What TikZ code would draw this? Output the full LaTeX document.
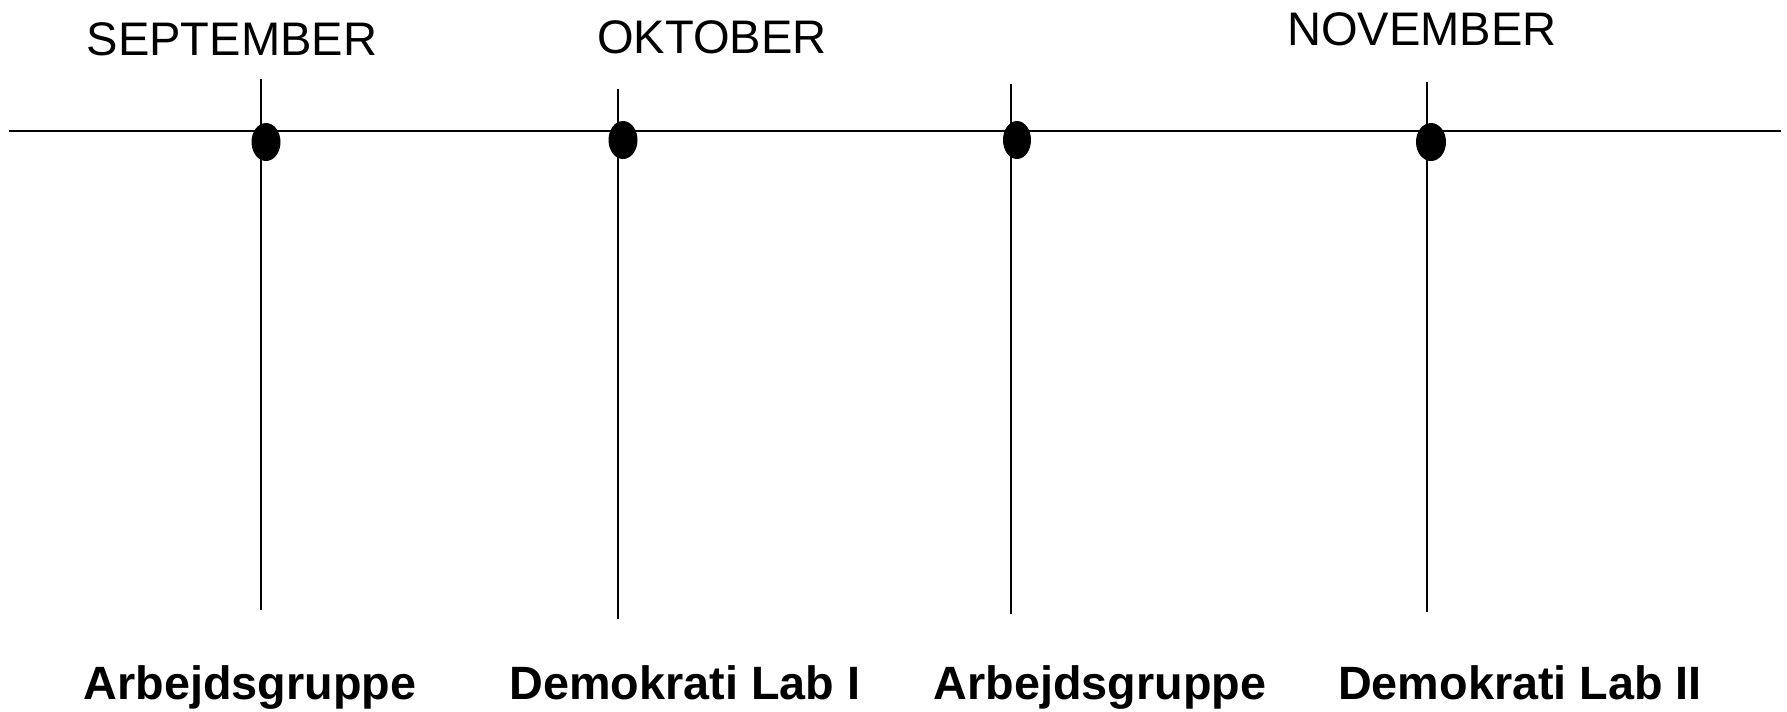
\documentclass[tikz,border=0pt]{standalone}
\usepackage{fontspec}
\setmainfont{Liberation Sans}
\usetikzlibrary{positioning}

\tikzset{
  month/.style={draw=none,inner sep=0pt,anchor=base,font=\fontsize{13.4}{16}\selectfont},
  task/.style={draw=none,inner sep=0pt,anchor=base,font=\fontsize{13.3}{16}\selectfont\bfseries},
  axis/.style={line width=0.8pt},
  tick/.style={line width=0.6pt}
}

\begin{document}
\begin{tikzpicture}[x=0.1mm,y=-0.1mm]
\useasboundingbox (0,0) rectangle (1787,711);

\coordinate (start) at (9,131);
\coordinate (end) at (1781,131);

\coordinate (t1) at (261,79);
\coordinate (b1) at (261,610);
\coordinate (t2) at (618,89);
\coordinate (b2) at (618,619);
\coordinate (t3) at (1011,84);
\coordinate (b3) at (1011,614);
\coordinate (t4) at (1427,82);
\coordinate (b4) at (1427,612);

\draw[axis] (start) -- (end);

\draw[tick] (t1) -- (b1);
\draw[tick] (t2) -- (b2);
\draw[tick] (t3) -- (b3);
\draw[tick] (t4) -- (b4);

\fill (266,142) ellipse [x radius=1.45mm, y radius=1.9mm];
\fill (623,140) ellipse [x radius=1.45mm, y radius=1.9mm];
\fill (1017,140) ellipse [x radius=1.4mm, y radius=1.9mm];
\fill (1431,142) ellipse [x radius=1.5mm, y radius=1.9mm];

\node[month] (sep) at (232,55) {SEPTEMBER};
\node[month] (okt) at (712,53) {OKTOBER};
\node[month] (nov) at (1422,45) {NOVEMBER};

\node[task] (arb1) at (250,699) {Arbejdsgruppe};
\node[task] (lab1) at (685,699) {Demokrati Lab I};
\node[task] (arb2) at (1100,699) {Arbejdsgruppe};
\node[task] (lab2) at (1520,699) {Demokrati Lab II};

\end{tikzpicture}
\end{document}
